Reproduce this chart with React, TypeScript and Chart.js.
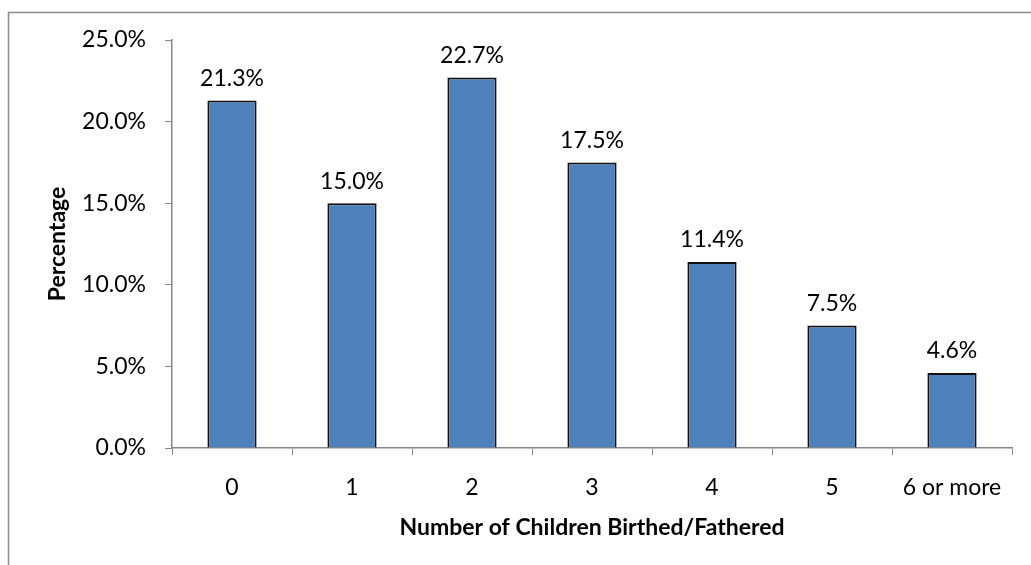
import React, { useEffect, useRef } from "react";
import { Chart, registerables } from "chart.js";

Chart.register(...registerables);

const categories = ["0", "1", "2", "3", "4", "5", "6 or more"];
const percentages = [21.3, 15.0, 22.7, 17.5, 11.4, 7.5, 4.6];
const yTicks = [0, 5, 10, 15, 20, 25];
const xTitle = "Number of Children Birthed/Fathered";
const yTitle = "Percentage";

const FONT = "Lato, 'Open Sans', sans-serif";
const W = 1031;
const H = 565;

const outerBorder = {
  id: "outerBorder",
  beforeDraw(chart: any) {
    const ctx = chart.ctx;
    ctx.save();
    ctx.strokeStyle = "#8c8c8c";
    ctx.lineWidth = 1.5;
    ctx.beginPath();
    ctx.moveTo(8.5, H + 5);
    ctx.lineTo(8.5, 12.5);
    ctx.lineTo(W + 5, 12.5);
    ctx.stroke();
    ctx.restore();
  },
};

const dataLabels = {
  id: "dataLabels",
  afterDatasetsDraw(chart: any) {
    const ctx = chart.ctx;
    const meta = chart.getDatasetMeta(0);
    ctx.save();
    ctx.fillStyle = "#000";
    ctx.font = `23px ${FONT}`;
    ctx.textAlign = "center";
    ctx.textBaseline = "middle";
    meta.data.forEach((bar: any, i: number) => {
      ctx.fillText(percentages[i].toFixed(1) + "%", bar.x, bar.y - 22);
    });
    ctx.restore();
  },
};

export default function App() {
  const ref = useRef<HTMLCanvasElement | null>(null);
  useEffect(() => {
    if (!ref.current) return;
    const chart = new Chart(ref.current, {
      type: "bar",
      data: {
        labels: categories,
        datasets: [
          {
            data: percentages,
            backgroundColor: "#4F81BD",
            borderColor: "#111",
            borderWidth: 2,
            barPercentage: 0.41,
            categoryPercentage: 1,
          },
        ],
      },
      options: {
        responsive: false,
        animation: false,
        layout: { padding: { top: 40, left: 0, right: 19, bottom: 0 } },
        plugins: { legend: { display: false }, tooltip: { enabled: false } },
        scales: {
          x: {
            grid: {
              drawOnChartArea: false,
              drawTicks: true,
              tickLength: 7,
              color: "#868686",
              offset: true,
            },
            border: { color: "#868686", width: 1.5 },
            ticks: {
              color: "#000",
              font: { family: FONT, size: 23 },
              padding: 19,
              maxRotation: 0,
              autoSkip: false,
            },
            title: {
              display: true,
              text: xTitle,
              color: "#000",
              font: { family: FONT, size: 23, weight: "bold" },
              padding: { top: 0, bottom: 24 },
            },
            afterFit(scale: any) {
              scale.height = H - 448;
            },
          },
          y: {
            min: 0,
            max: 25,
            afterBuildTicks(scale: any) {
              scale.ticks = yTicks.map((v) => ({ value: v }));
            },
            grid: {
              drawOnChartArea: false,
              drawTicks: true,
              tickLength: 7,
              color: "#868686",
            },
            border: { color: "#868686", width: 1.5 },
            ticks: {
              color: "#000",
              font: { family: FONT, size: 23 },
              padding: 19,
              callback: (v: any) => Number(v).toFixed(1) + "%",
            },
            title: {
              display: true,
              text: yTitle,
              color: "#000",
              font: { family: FONT, size: 23, weight: "bold" },
              padding: { top: 44, bottom: 0 },
            },
            afterFit(scale: any) {
              scale.width = 172;
            },
          },
        },
      },
      plugins: [outerBorder, dataLabels],
    } as any);
    return () => chart.destroy();
  }, []);
  return (
    <div style={{ position: "fixed", left: 0, top: 0, width: W, height: H, overflow: "hidden", background: "#fff" }}>
      <canvas ref={ref} width={W} height={H} style={{ display: "block" }} />
    </div>
  );
}
